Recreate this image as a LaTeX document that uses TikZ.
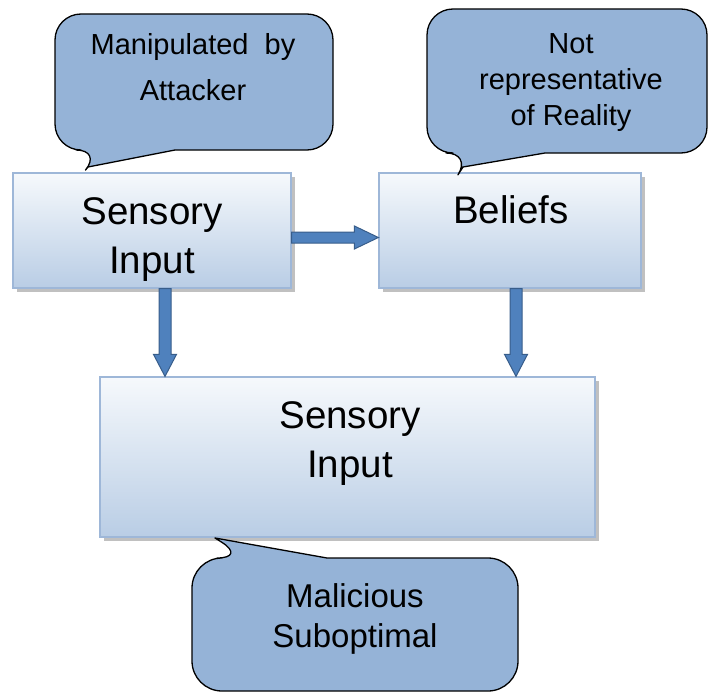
\documentclass[tikz,border=0pt]{standalone}
\usepackage{fontspec}
\setmainfont{Liberation Sans}
\usetikzlibrary{calc,shadows}
\definecolor{bubble}{RGB}{149,179,215}
\definecolor{boxtop}{RGB}{246,249,252}
\definecolor{boxbot}{RGB}{185,205,229}
\definecolor{boxline}{RGB}{158,183,216}
\definecolor{arrowfill}{RGB}{79,129,189}
\definecolor{arrowline}{RGB}{56,93,138}
\begin{document}
\begin{tikzpicture}[x=1pt,y=-1pt,
  stage/.style={draw=boxline, line width=1.2pt, top color=boxtop, bottom color=boxbot,
    inner sep=0pt, drop shadow={shadow xshift=3.5pt, shadow yshift=-3.5pt, opacity=.55, fill=black!45}},
  stagetext/.style={anchor=base, inner sep=0pt, font=\fontsize{38.5}{44}\selectfont},
  callout/.style={draw=black, line width=1.3pt, fill=bubble, line join=round},
  bubbletext/.style={anchor=base, inner sep=0pt, font=\fontsize{29}{34}\selectfont},
  bigbubbletext/.style={anchor=base, inner sep=0pt, font=\fontsize{33}{37}\selectfont},
  blockarrow/.style={draw=arrowline, line width=1pt, fill=arrowfill, line join=miter}]

% canvas
\useasboundingbox (0,0) rectangle (714,693);

% the three stages
\node[stage, minimum width=278pt, minimum height=115pt] (b1) at (152,230.5) {};
\node[stage, minimum width=262pt, minimum height=115pt] (b2) at (510,230.5) {};
\node[stage, minimum width=495pt, minimum height=160pt] (b3) at (347.5,457) {};

\node[stagetext] (b1l1) at (152,224) {Sensory};
\node[stagetext] (b1l2) at (152,273) {Input};
\node[stagetext] (b2l1) at (511,223) {Beliefs};
\node[stagetext] (b3l1) at (350,428) {Sensory};
\node[stagetext] (b3l2) at (350,477) {Input};

% block arrows between the stages
\coordinate (h0) at ($(b1.east)+(0,7)$);
\coordinate (h1) at ($(b2.west)+(0,7)$);
\draw[blockarrow] ($(h0)+(0,-5.5)$) -- ($(h1)+(-24,-5.5)$) -- ($(h1)+(-24,-11.5)$) -- (h1)
  -- ($(h1)+(-24,11.5)$) -- ($(h1)+(-24,5.5)$) -- ($(h0)+(0,5.5)$) -- cycle;

\coordinate (v0) at ($(b1.south)+(13,0)$);
\coordinate (v1) at ($(b3.north)+(-182.5,0)$);
\draw[blockarrow] ($(v0)+(-6,0)$) -- ($(v1)+(-6,-22)$) -- ($(v1)+(-11.5,-22)$) -- (v1)
  -- ($(v1)+(11.5,-22)$) -- ($(v1)+(6,-22)$) -- ($(v0)+(6,0)$) -- cycle;

\coordinate (w0) at ($(b2.south)+(6,0)$);
\coordinate (w1) at ($(b3.north)+(168.5,0)$);
\draw[blockarrow] ($(w0)+(-6,0)$) -- ($(w1)+(-6,-22)$) -- ($(w1)+(-11.5,-22)$) -- (w1)
  -- ($(w1)+(11.5,-22)$) -- ($(w1)+(6,-22)$) -- ($(w0)+(6,0)$) -- cycle;

% speech bubbles
\draw[callout, rounded corners=26pt] (175,150) -- (333,150) -- (333,14) -- (55,14) -- (55,150)
  -- (102,150) [sharp corners] -- (88,167) -- (175,150) -- cycle;
\node[bubbletext] (c1l1) at (193,55) {Manipulated\ \ by};
\node[bubbletext] (c1l2) at (193,100) {Attacker};

\draw[callout, rounded corners=26pt] (545,153) -- (707,153) -- (707,9) -- (427,9) -- (427,153)
  -- (472,153) [sharp corners] -- (463,167) -- (545,153) -- cycle;
\node[bubbletext] (c2l1) at (571,53) {Not};
\node[bubbletext] (c2l2) at (571,89) {representative};
\node[bubbletext] (c2l3) at (571,125) {of Reality};

\draw[callout, rounded corners=30pt] (327,558) -- (518,558) -- (518,691) -- (192,691) -- (192,558)
  -- (247,558) [sharp corners] -- (215,538) -- (327,558) -- cycle;
\node[bigbubbletext] (c3l1) at (355,607) {Malicious};
\node[bigbubbletext] (c3l2) at (355,647) {Suboptimal};
\end{tikzpicture}
\end{document}
